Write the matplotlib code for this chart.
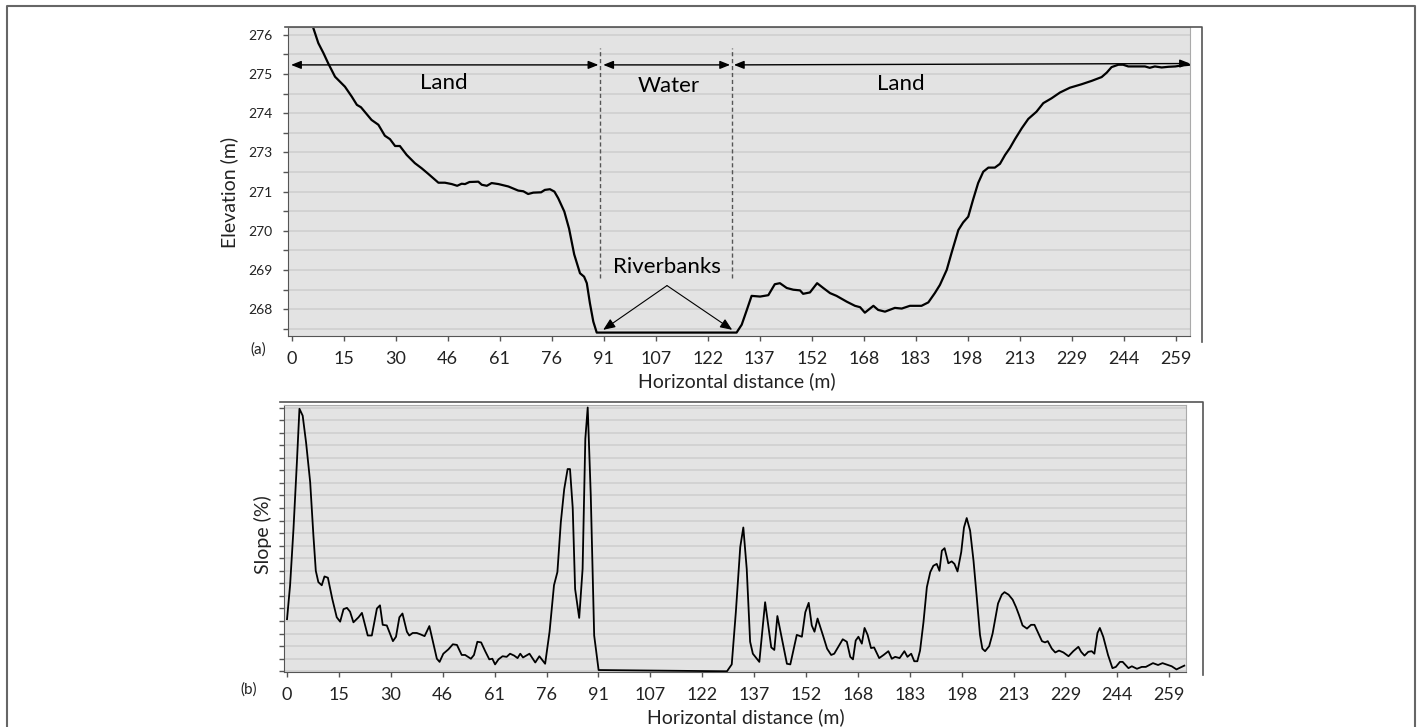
import matplotlib
matplotlib.use('Agg')
import matplotlib.pyplot as plt
import numpy as np
from matplotlib.lines import Line2D

# ---- data ----
# x axis ticks (labels are 50 ft steps shown in metres)
xtick_labels = ['0', '15', '30', '46', '61', '76', '91', '107', '122', '137',
                '152', '168', '183', '198', '213', '229', '244', '259']
xtick_step = 15.24

# elevation axis ticks (8 labels evenly spread over 268..276)
elev_tick_labels = ['268', '269', '270', '271', '273', '274', '275', '276']
elev_tick_lo, elev_tick_hi = 268.0, 276.0

# elevation profile, left bank
dist_left = [0, 3, 6.2, 7.8, 9.3, 10.7, 12.7, 15.6, 17.6, 19.1, 20.3, 23.4, 25.4, 27.3,
             28.8, 30.3, 31.7, 33.7, 36.1, 38.1, 40.0, 43.0, 44.9, 46.9, 48.5, 49.8,
             50.8, 52.1, 54.7, 55.7, 57.2, 58.6, 60.6, 63.5, 66.4, 67.9, 69.3, 70.8,
             73.1, 74.2, 75.7, 77.0, 78.1, 79.9, 81.3, 82.8, 84.5, 85.7, 86.5, 87.4,
             88.4, 89.4]
elev_left = [278.0, 277.15, 276.24, 275.76, 275.47, 275.17, 274.78, 274.49, 274.20,
             273.96, 273.89, 273.52, 273.38, 273.06, 272.96, 272.76, 272.76, 272.50,
             272.26, 272.11, 271.95, 271.69, 271.69, 271.65, 271.60, 271.66, 271.65,
             271.71, 271.72, 271.63, 271.60, 271.68, 271.65, 271.58, 271.46, 271.44,
             271.36, 271.40, 271.41, 271.48, 271.50, 271.43, 271.24, 270.85, 270.35,
             269.60, 269.05, 268.95, 268.76, 268.18, 267.64, 267.32]

# elevation profile, right bank (channel bottom is flat between the two)
dist_right = [130.4, 131.9, 133.4, 134.8, 137.3, 139.7, 141.6, 143.1, 145.1, 147.0,
              149.0, 149.9, 151.9, 154.0, 155.8, 157.8, 159.7, 162.7, 165.1, 166.6,
              168.0, 170.5, 171.9, 173.9, 176.8, 178.8, 181.2, 184.6, 186.6, 188.5,
              190.0, 192.0, 193.4, 195.4, 196.8, 198.3, 199.7, 201.2, 202.7, 204.2,
              206.1, 207.6, 209.1, 210.5, 212.0, 214.0, 215.9, 218.3, 220.3, 222.7,
              225.2, 228.1, 231.5, 234.5, 237.4, 238.9, 240.3, 242.3, 243.7, 245.2,
              248.0, 250.1, 251.5, 253.0, 255.0, 257.0, 259.0, 261.0, 263.3]
elev_right = [267.32, 267.55, 267.98, 268.39, 268.37, 268.41, 268.73, 268.76, 268.62,
              268.57, 268.55, 268.45, 268.49, 268.76, 268.62, 268.47, 268.39, 268.22,
              268.10, 268.06, 267.90, 268.10, 267.98, 267.93, 268.04, 268.02, 268.10,
              268.10, 268.20, 268.47, 268.71, 269.15, 269.64, 270.31, 270.53, 270.70,
              271.19, 271.68, 272.01, 272.13, 272.13, 272.24, 272.50, 272.70, 272.96,
              273.28, 273.55, 273.76, 274.01, 274.15, 274.32, 274.46, 274.56, 274.66,
              274.77, 274.90, 275.06, 275.13, 275.13, 275.08, 275.08, 275.08, 275.04,
              275.08, 275.05, 275.07, 275.08, 275.11, 275.13]

# slope profile (%)
slope_x_a = [0.0, 0.9, 1.9, 2.9, 3.65, 4.6, 5.6, 6.8, 7.75, 8.45, 9.2, 10.2, 11.0, 12.0,
             13.3, 14.6, 15.6, 16.6, 17.6, 18.5, 19.5, 21.0, 22.0, 23.7, 24.9, 26.4,
             27.3, 28.1, 29.3, 31.1, 32.0, 33.0, 33.9, 35.2, 35.9, 36.9, 38.1, 39.1,
             40.4, 41.8, 44.0, 44.8, 45.9, 47.4, 48.7, 49.9, 51.3, 52.3, 54.0, 54.9,
             55.9, 57.0, 58.2, 59.4, 60.3, 61.1, 62.1, 63.3, 64.5, 65.5, 66.7, 67.7,
             68.5, 69.3, 71.2, 72.9, 74.1, 75.8, 77.1, 78.4, 79.4, 80.4, 81.4, 82.4, 83.1]
slope_a = [8.3, 13.7, 22.7, 33.3, 41.8, 40.7, 36.4, 30.1, 21.6, 16.0, 14.2, 13.7, 15.1,
           14.9, 11.5, 8.6, 7.9, 9.9, 10.1, 9.5, 7.8, 8.6, 9.3, 5.7, 5.7, 10.0, 10.5,
           7.4, 7.3, 4.8, 5.5, 8.6, 9.2, 6.3, 5.7, 6.1, 6.1, 5.9, 5.6, 7.2, 2.0, 1.5,
           2.8, 3.5, 4.3, 4.2, 2.6, 2.6, 2.0, 2.6, 4.7, 4.6, 3.2, 1.9, 2.0, 1.1, 1.9,
           2.4, 2.3, 2.8, 2.5, 2.1, 2.8, 2.2, 2.8, 1.4, 2.4, 1.2, 6.3, 13.7, 15.8, 23.7,
           29.0, 32.2, 32.2]
slope_x_b = [83.9, 84.6, 85.8, 86.8, 87.6, 88.3, 89.2, 90.2, 91.5, 129.2, 130.6, 131.8,
             133.1, 134.0, 135.0, 136.0, 136.8, 138.7, 140.4, 142.2, 143.1, 144.0, 145.5,
             146.8, 147.8, 149.7, 151.2, 152.2, 153.2, 154.1, 154.9, 155.8, 157.4, 158.6,
             159.8, 160.7, 163.2, 164.4, 165.4, 166.2, 167.0]
slope_b = [26.0, 13.1, 8.5, 16.3, 37.0, 42.0, 28.0, 5.7, 0.2, 0.0, 1.1, 9.4, 19.8, 22.9,
           16.3, 4.7, 2.8, 1.5, 11.0, 3.8, 3.4, 8.8, 4.7, 1.2, 1.1, 5.8, 5.5, 9.4, 10.9,
           7.3, 6.3, 8.4, 5.7, 3.6, 2.6, 2.8, 5.1, 4.7, 2.3, 1.9, 4.9]
slope_x_c = [167.8, 168.8, 169.6, 170.5, 171.5, 172.4, 173.9, 175.2, 176.6, 177.6, 178.6,
             179.9, 181.3, 182.2, 183.3, 184.2, 185.1, 185.9, 186.9, 187.9, 188.9, 189.8,
             190.8, 191.6, 192.3, 193.1, 194.2, 195.2, 196.0, 196.9, 198.0, 198.8, 199.6,
             200.6, 201.6, 202.6, 203.5, 204.2, 205.0, 206.2, 207.2, 208.0, 208.8, 209.9,
             210.7, 211.9, 213.1, 214.1, 215.0, 216.0, 217.3, 218.5, 219.5, 220.7, 221.7,
             222.6, 223.4, 224.6, 225.6, 226.7, 228.0, 229.5, 230.9, 232.4, 233.2, 234.2,
             235.3, 236.3, 237.1, 238.0, 238.7, 239.7, 241.1, 242.4, 243.4, 244.6, 245.4,
             247.1, 248.1, 249.6, 251.0, 252.2, 254.3, 255.8, 257.1, 259.8, 261.2, 263.5]
slope_c = [5.5, 4.4, 6.9, 5.8, 3.7, 3.8, 2.1, 2.6, 3.2, 2.0, 2.3, 2.1, 3.2, 2.3, 2.8,
           1.6, 1.6, 3.3, 7.8, 13.4, 15.8, 16.8, 17.1, 16.0, 19.2, 19.6, 17.2, 17.5,
           17.1, 15.9, 19.0, 22.9, 24.4, 22.4, 17.6, 11.5, 5.8, 3.6, 3.2, 4.0, 6.0, 8.4,
           10.8, 12.2, 12.6, 12.2, 11.4, 10.2, 8.9, 7.3, 6.8, 7.4, 7.4, 6.0, 4.8, 4.6,
           4.8, 3.6, 3.0, 3.3, 3.0, 2.4, 3.2, 3.9, 3.1, 2.5, 3.1, 3.2, 2.8, 6.1, 6.9,
           5.5, 2.6, 0.5, 0.7, 1.5, 1.5, 0.5, 0.8, 0.4, 0.7, 0.7, 1.3, 1.0, 1.3, 0.8,
           0.3, 0.9]

# zone limits and annotation levels
water_start, water_end = 90.4, 129.1
arrow_level = 275.125
riverbank_apex = (110.0, 268.69)
bank_tips = [(91.3, 267.40), (129.1, 267.40)]

# ---- figure ----
W, H = 1421, 727
def fx(px):
    return px / W
def fy(py):
    return 1 - py / H

plt.rcParams['font.family'] = ['Lato', 'DejaVu Sans']

fig = plt.figure(figsize=(W / 100, H / 100), dpi=100)
fig.patch.set_facecolor('white')

ax1 = fig.add_axes([fx(288.3), fy(336), fx(1190) - fx(288.3), fy(27) - fy(336)])
ax2 = fig.add_axes([fx(284.3), fy(672.3), fx(1186) - fx(284.3), fy(405) - fy(672.3)])

xtick_pos = np.arange(len(xtick_labels)) * xtick_step

for ax in (ax1, ax2):
    ax.set_facecolor('#e3e3e3')
    ax.set_axisbelow(True)
    ax.grid(axis='y', which='both', color='#cdcdcd', lw=1.1)
    ax.set_xticks(xtick_pos)
    ax.set_xticklabels(xtick_labels, fontsize=13, color='#222222')
    ax.tick_params(axis='x', direction='out', length=3.5, width=1, color='#555555', pad=7)
    ax.spines['left'].set_color('#555555')
    ax.spines['bottom'].set_color('#555555')
    ax.spines['top'].set_color('#aaaaaa')
    ax.spines['right'].set_color('#aaaaaa')

# top panel: elevation
elev_ticks = np.linspace(elev_tick_lo, elev_tick_hi, len(elev_tick_labels))
half = (elev_ticks[1] - elev_ticks[0]) / 2
ax1.set_yticks(elev_ticks)
ax1.set_yticklabels(elev_tick_labels, fontsize=10, color='#222222')
ax1.set_yticks(np.append(elev_ticks[0] - half, elev_ticks[:-1] + half), minor=True)
ax1.tick_params(axis='y', which='both', direction='out', length=3.5, width=1,
                color='#555555', pad=8)
ax1.set_xlim(-1.0, 263.3)
ax1.set_ylim(267.22, 276.23)

dist = dist_left + dist_right
elev = elev_left + elev_right
ax1.plot(dist, elev, color='black', lw=1.6, solid_joinstyle='round')

for xd in (water_start, water_end):
    ax1.plot([xd, xd], [268.91, 275.63], color='#555555', lw=1, ls=(0, (3, 2)))

arrow_kw = dict(arrowstyle='<|-|>,head_length=0.5,head_width=0.2', color='black',
                lw=1, shrinkA=0, shrinkB=0, mutation_scale=12)
ax1.annotate('', xy=(water_start - 0.5, arrow_level), xytext=(-0.2, arrow_level),
             arrowprops=arrow_kw, annotation_clip=False)
ax1.annotate('', xy=(water_end - 0.6, arrow_level), xytext=(water_start + 0.9, arrow_level),
             arrowprops=arrow_kw, annotation_clip=False)
ax1.annotate('', xy=(263.3, arrow_level + 0.04), xytext=(water_end + 0.5, arrow_level),
             arrowprops=arrow_kw, annotation_clip=False)

ax1.text(44.6, 274.60, 'Land', fontsize=16, ha='center', va='center')
ax1.text(110.4, 274.52, 'Water', fontsize=16, ha='center', va='center')
ax1.text(178.5, 274.57, 'Land', fontsize=16, ha='center', va='center')
ax1.text(110.0, 269.24, 'Riverbanks', fontsize=16, ha='center', va='center')

for tip in bank_tips:
    ax1.annotate('', xy=tip, xytext=riverbank_apex,
                 arrowprops=dict(arrowstyle='-|>,head_length=0.6,head_width=0.25',
                                 color='black', lw=0.8, shrinkA=0, shrinkB=0,
                                 mutation_scale=12))

# bottom panel: slope
ax2.set_yticks(np.arange(0, 43, 2))
ax2.set_yticklabels([])
ax2.tick_params(axis='y', direction='out', length=3.5, width=1, color='#555555')
ax2.set_xlim(-0.8, 264.0)
ax2.set_ylim(-0.16, 42.4)

slope_x = slope_x_a + slope_x_b + slope_x_c
slope = slope_a + slope_b + slope_c
ax2.plot(slope_x, slope, color='black', lw=1.3, solid_joinstyle='round')

# axis titles and panel letters
fig.text(fx(229), fy(192), 'Elevation (m)', rotation=90, fontsize=14,
         ha='center', va='center', color='#222222')
fig.text(fx(263), fy(535), 'Slope (%)', rotation=90, fontsize=14,
         ha='center', va='center', color='#222222')
fig.text(fx(737), fy(381), 'Horizontal distance (m)', fontsize=14,
         ha='center', va='center', color='#222222')
fig.text(fx(746), fy(717), 'Horizontal distance (m)', fontsize=14,
         ha='center', va='center', color='#222222')
fig.text(fx(258), fy(350), '(a)', fontsize=11, ha='center', va='center', color='#222222')
fig.text(fx(249), fy(690), '(b)', fontsize=11, ha='center', va='center', color='#222222')

# chart-area borders and outer frame (its bottom edge lies below the image)
fig.add_artist(Line2D([fx(285), fx(1202), fx(1202)], [fy(26.7), fy(26.7), fy(342)],
                      color='#555555', lw=1.2))
fig.add_artist(Line2D([fx(280), fx(1203), fx(1203)], [fy(401.7), fy(401.7), fy(675)],
                      color='#555555', lw=1.2))
fig.add_artist(Line2D([fx(7), fx(7), fx(1415), fx(1415)], [fy(730), fy(6), fy(6), fy(730)],
                      color='#666666', lw=1.5))

fig.savefig('out.png', dpi=100, facecolor='white')
